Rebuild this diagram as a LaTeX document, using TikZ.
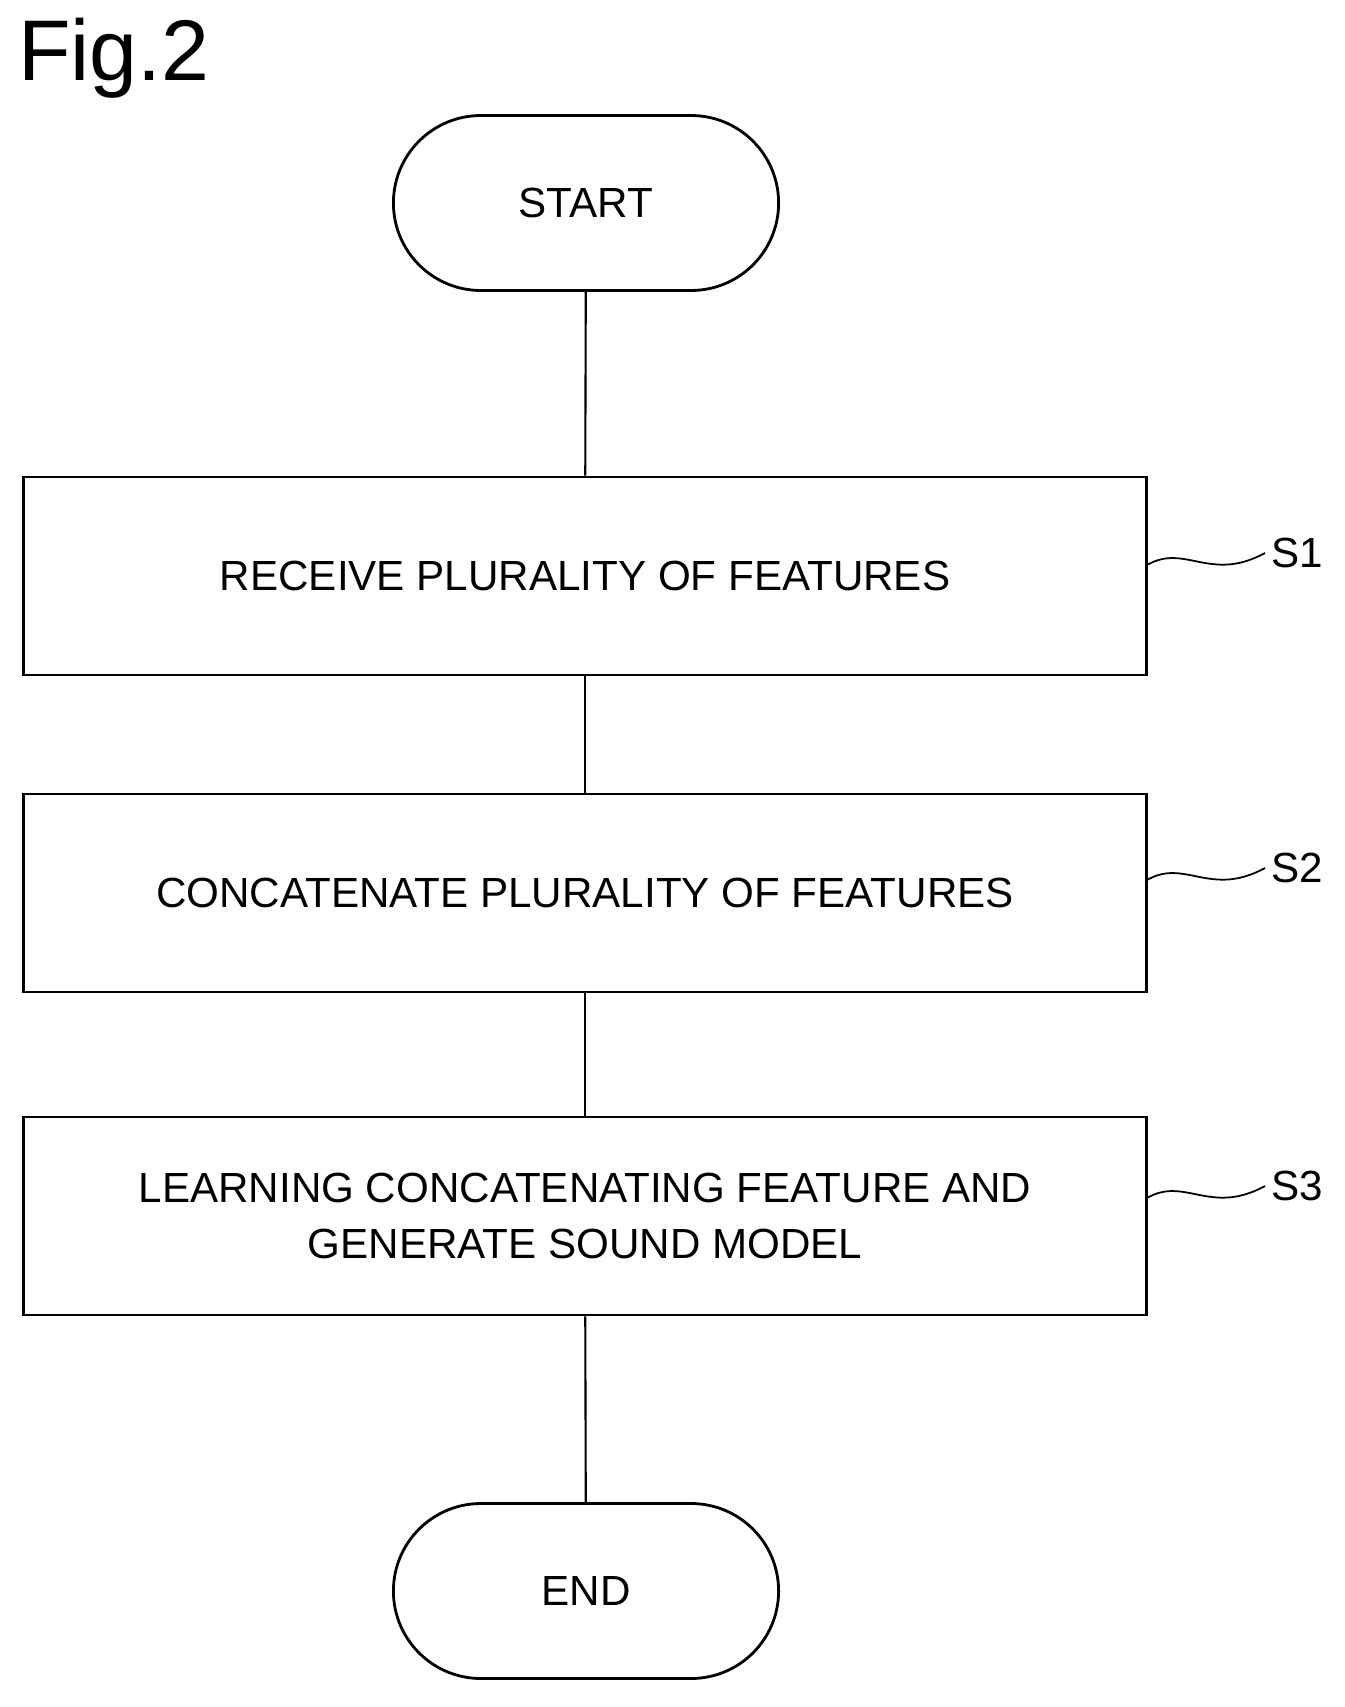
\documentclass[tikz,border=0pt]{standalone}
\usepackage{fontspec}
\setmainfont{Liberation Sans}
\usetikzlibrary{shapes.misc}
\tikzset{
  term/.style={draw, rounded rectangle, line width=1.6pt, minimum width=7.94cm, minimum height=3.5cm, font=\fontsize{24}{30}\selectfont},
  stepbox/.style={draw, line width=1.6pt, minimum width=22.46cm, minimum height=3.96cm, align=center, font=\fontsize{24}{32}\selectfont},
  link/.style={line width=1.2pt},
  tag/.style={font=\fontsize{24}{30}\selectfont}
}
\begin{document}
\begin{tikzpicture}[x=0.02cm,y=-0.02cm]
\useasboundingbox (0,0) rectangle (1345,1707);
\node[anchor=north west, font=\fontsize{49}{56}\selectfont] (fig) at (12,12) {Fig.2};

\node[term] (start) at (586,203) {START};
\node[stepbox] (s1) at (585,576) {RECEIVE PLURALITY OF FEATURES};
\node[stepbox] (s2) at (585,893) {CONCATENATE PLURALITY OF FEATURES};
\node[stepbox] (s3) at (585,1216) {LEARNING CONCATENATING FEATURE AND\\GENERATE SOUND MODEL};
\node[term] (end) at (586,1591) {END};

\draw[link] (start) -- (s1);
\draw[link] (s1) -- (s2);
\draw[link] (s2) -- (s3);
\draw[link] (s3) -- (end);

% step labels
\foreach \s/\y in {1/553, 2/868, 3/1186} {
  \node[tag] (l\s) at (1297,\y) {S\s};
  \coordinate (c\s) at (1147,\y+12);
  \draw[line width=1pt] (c\s) .. controls (1185,\y-10) and (1210,\y+30) .. (l\s.west);
}
\end{tikzpicture}
\end{document}
